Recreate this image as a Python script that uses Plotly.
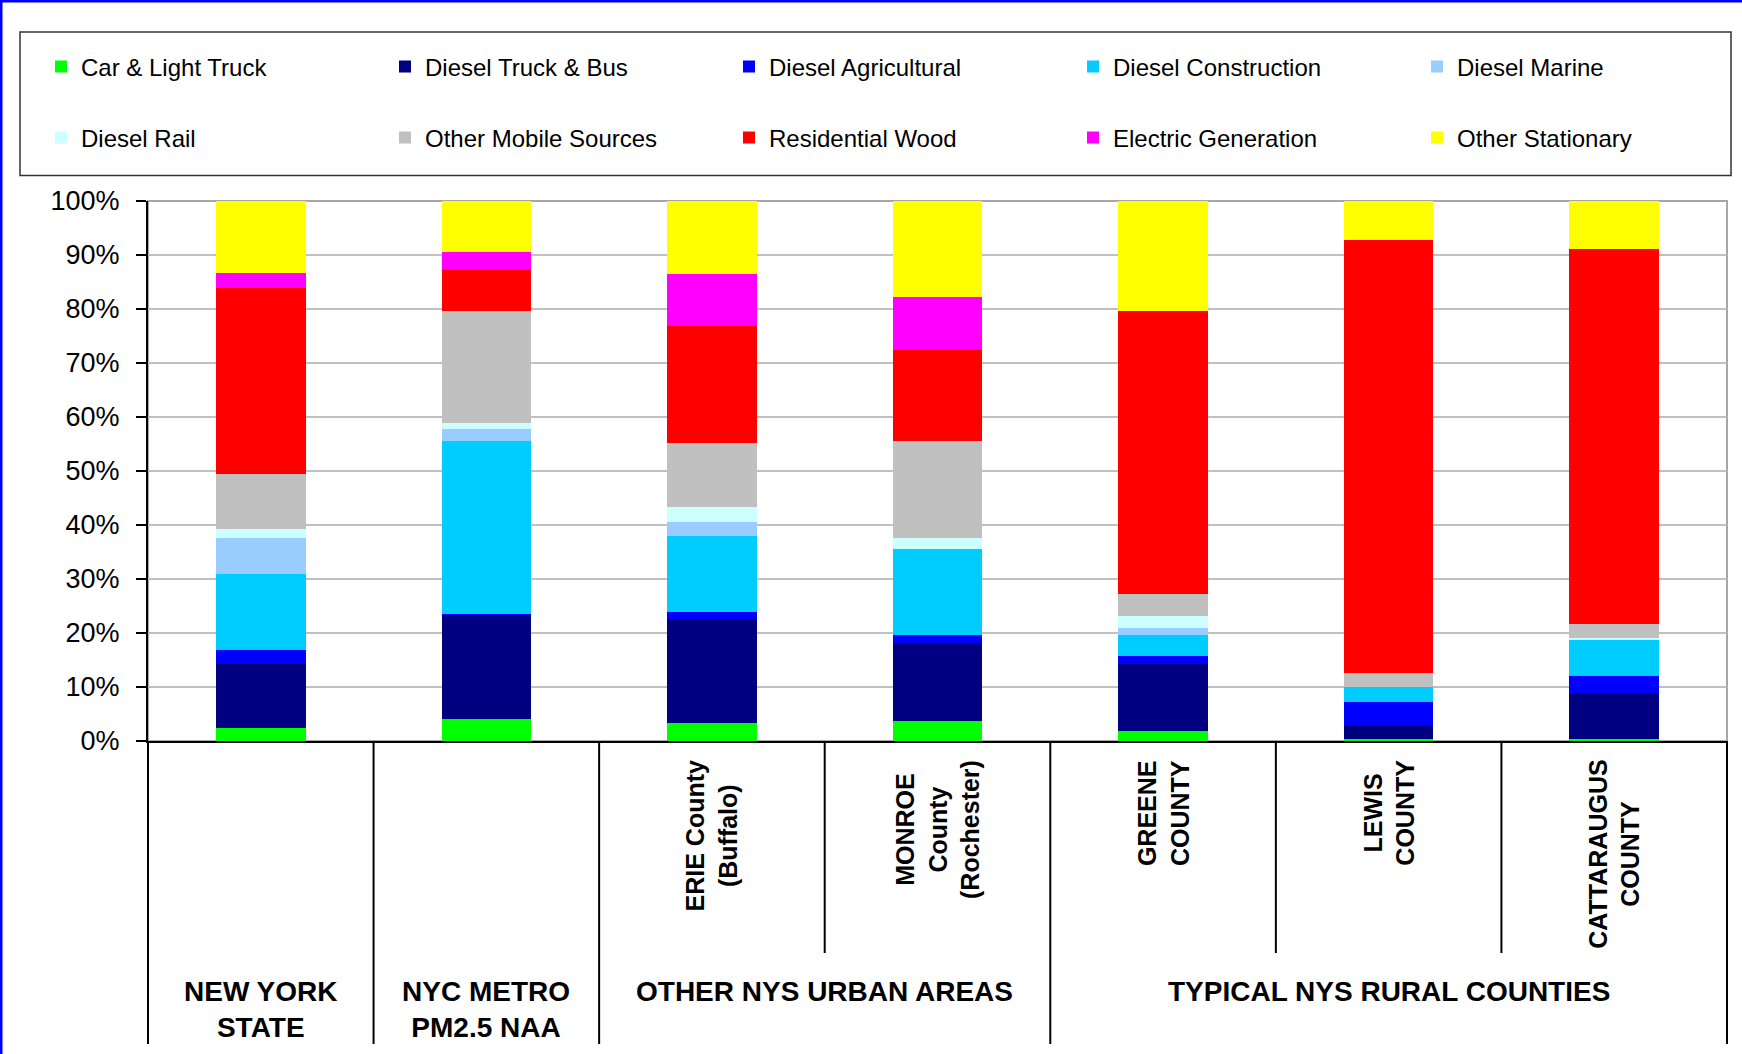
import plotly.graph_objects as go

# Source-category shares of PM2.5 emissions (percent of each area's total)
areas = ["NEW YORK STATE", "NYC METRO PM2.5 NAA", "ERIE County (Buffalo)",
         "MONROE County (Rochester)", "GREENE COUNTY", "LEWIS COUNTY",
         "CATTARAUGUS COUNTY"]

car_light_truck = [2.4, 4.0, 3.4, 3.7, 1.8, 0.4, 0.4]
diesel_truck_bus = [11.9, 19.4, 19.2, 14.5, 12.4, 2.3, 8.4]
diesel_agricultural = [2.5, 0.2, 1.3, 1.5, 1.6, 4.5, 3.2]
diesel_construction = [14.1, 32.0, 14.1, 15.8, 3.9, 2.8, 6.7]
diesel_marine = [6.7, 2.2, 2.5, 0.0, 1.3, 0.0, 0.0]
diesel_rail = [1.6, 1.0, 2.9, 2.1, 2.2, 0.0, 0.4]
other_mobile = [10.3, 20.8, 11.8, 17.9, 4.1, 2.6, 2.5]
residential_wood = [34.3, 7.7, 21.6, 17.0, 52.3, 80.1, 69.5]
electric_generation = [2.9, 3.2, 9.6, 9.7, 0.0, 0.0, 0.0]
other_stationary = [13.3, 9.5, 13.6, 17.8, 20.4, 7.3, 8.9]

y_ticks = [0, 10, 20, 30, 40, 50, 60, 70, 80, 90, 100]

# Labels drawn under the axis
area_labels = ["", "",
               "ERIE County<br>(Buffalo)",
               "MONROE<br>County<br>(Rochester)",
               "GREENE<br>COUNTY",
               "LEWIS<br>COUNTY",
               "CATTARAUGUS<br>COUNTY"]
group_labels = ["NEW YORK<br>STATE", "NYC METRO<br>PM2.5 NAA",
                "OTHER NYS URBAN AREAS", "TYPICAL NYS RURAL COUNTIES"]
group_spans = [(0, 1), (1, 2), (2, 4), (4, 7)]

series = [
    ("Car & Light Truck", car_light_truck, "#00FF00"),
    ("Diesel Truck & Bus", diesel_truck_bus, "#000080"),
    ("Diesel Agricultural", diesel_agricultural, "#0000FF"),
    ("Diesel Construction", diesel_construction, "#00CCFF"),
    ("Diesel Marine", diesel_marine, "#99CCFF"),
    ("Diesel Rail", diesel_rail, "#CCFFFF"),
    ("Other Mobile Sources", other_mobile, "#C0C0C0"),
    ("Residential Wood", residential_wood, "#FF0000"),
    ("Electric Generation", electric_generation, "#FF00FF"),
    ("Other Stationary", other_stationary, "#FFFF00"),
]

FONT = "Liberation Sans, Arial"
W, H = 1742, 1054
ML, MR, MT, MB = 148, 15, 201, 313
PW, PH = W - ML - MR, H - MT - MB


def px_x(x):
    return (x - ML) / PW


def px_y(y):
    return (H - MB - y) / PH


# legend grid: 5 columns x 2 rows; the last column gets its own legend
# so that every legend fits inside the figure width
LEG_X0, LEG_STEP = 41, 344
ROW_Y = [67, 138]


def legend_for(i):
    row, col = divmod(i, 5)
    if col < 4:
        return "legend" if row == 0 else "legend2"
    return "legend3" if row == 0 else "legend4"


fig = go.Figure()
for i, (name, vals, color) in enumerate(series):
    fig.add_trace(go.Bar(
        x=areas, y=vals, name=name,
        marker=dict(color=color, line=dict(width=0)),
        legend=legend_for(i),
    ))

n = len(areas)
shapes = []
# outer frame (blue top and left edges)
shapes.append(dict(type="line", xref="paper", yref="paper",
                   x0=px_x(0), x1=px_x(W), y0=px_y(1), y1=px_y(1),
                   line=dict(color="#0000FF", width=3)))
shapes.append(dict(type="line", xref="paper", yref="paper",
                   x0=px_x(1), x1=px_x(1), y0=px_y(0), y1=px_y(H),
                   line=dict(color="#0000FF", width=3)))
# legend frame
shapes.append(dict(type="rect", xref="paper", yref="paper",
                   x0=px_x(20), x1=px_x(1731), y0=px_y(32), y1=px_y(175.5),
                   line=dict(color="#333333", width=1.5)))
# plot-area frame (grey top and right)
shapes.append(dict(type="rect", xref="paper", yref="paper", layer="below",
                   x0=0, x1=1, y0=0, y1=1,
                   line=dict(color="#A6A6A6", width=2)))
# category dividers below the axis
full_div = {0, 1, 2, 4, n}
for k in range(n + 1):
    bottom = 1044 if k in full_div else 953
    shapes.append(dict(type="line", xref="x domain", yref="paper",
                       x0=k / n, x1=k / n, y0=0, y1=px_y(bottom),
                       line=dict(color="#000000", width=2)))

annotations = []
for i, lab in enumerate(area_labels):
    if not lab:
        continue
    annotations.append(dict(
        xref="x domain", yref="paper", x=(i + 0.5) / n, y=px_y(758),
        text=lab, textangle=-90, showarrow=False, xanchor="center",
        yanchor="top", align="center",
        font=dict(family=FONT, size=25, color="#000000", weight="bold")))
for lab, (a, b) in zip(group_labels, group_spans):
    annotations.append(dict(
        xref="x domain", yref="paper", x=(a + b) / 2 / n, y=px_y(974),
        text=lab, showarrow=False, xanchor="center", yanchor="top",
        align="center",
        font=dict(family=FONT, size=28, color="#000000", weight="bold")))

legend_style = dict(
    orientation="h", xanchor="left", yanchor="middle",
    font=dict(family=FONT, size=24, color="#000000"),
    bgcolor="rgba(0,0,0,0)", borderwidth=0, traceorder="normal",
)
wide = dict(entrywidth=LEG_STEP - 45, entrywidthmode="pixels")

fig.update_layout(
    width=W, height=H,
    margin=dict(l=ML, r=MR, t=MT, b=MB),
    paper_bgcolor="#FFFFFF", plot_bgcolor="#FFFFFF",
    barmode="stack", barnorm="percent", bargap=0.603,
    font=dict(family=FONT, color="#000000"),
    showlegend=True,
    legend=dict(x=px_x(LEG_X0), y=px_y(ROW_Y[0]), **legend_style, **wide),
    legend2=dict(x=px_x(LEG_X0), y=px_y(ROW_Y[1]), **legend_style, **wide),
    legend3=dict(x=px_x(LEG_X0 + 4 * LEG_STEP), y=px_y(ROW_Y[0]),
                 **legend_style),
    legend4=dict(x=px_x(LEG_X0 + 4 * LEG_STEP), y=px_y(ROW_Y[1]),
                 **legend_style),
    xaxis=dict(type="category", showticklabels=False, ticks="",
               showgrid=False, showline=True, linecolor="#000000",
               linewidth=2, zeroline=False, fixedrange=True),
    yaxis=dict(range=[0, 100], tickvals=y_ticks,
               ticktext=[f"{v}%" for v in y_ticks],
               ticks="outside", ticklen=10, tickwidth=2, tickcolor="#000000",
               ticklabelstandoff=11,
               showline=True, linecolor="#000000", linewidth=2,
               showgrid=True, gridcolor="#C0C0C0", gridwidth=2,
               zeroline=False,
               tickfont=dict(family=FONT, size=27, color="#000000")),
    shapes=shapes,
    annotations=annotations,
)

fig.write_html("out.html")
